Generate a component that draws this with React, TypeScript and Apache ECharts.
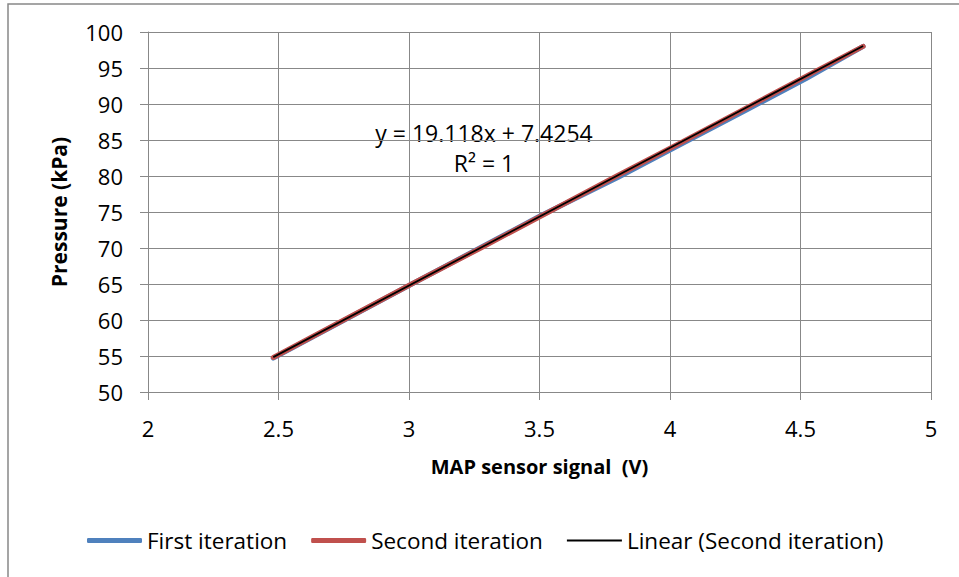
import React, { useEffect, useRef } from "react";
import * as echarts from "echarts";

const firstX = [2.48, 3.0, 3.5, 3.8, 4.02, 4.3, 4.52, 4.74];
const firstY = [54.7, 64.8, 74.4, 79.8, 84.0, 89.3, 93.5, 98.0];
const secondX = [2.48, 2.75, 3.01, 3.27, 3.53, 3.79, 4.05, 4.3, 4.56, 4.74];
const secondY = [54.8, 60.0, 65.0, 69.9, 74.9, 79.9, 84.8, 89.6, 94.6, 98.0];
const trendX = [2.48, 4.74];
const trendY = [54.84, 98.05];
const equationText = "y = 19.118x + 7.4254";
const r2Text = "R² = 1";
const xTitle = "MAP sensor signal  (V)";
const yTitle = "Pressure (kPa)";

const FONT = "'Open Sans', 'Noto Sans', sans-serif";

export default function App() {
  const ref = useRef<HTMLDivElement>(null);
  useEffect(() => {
    if (!ref.current) return;
    const chart = echarts.init(ref.current, undefined, { renderer: "svg" });
    const zip = (xs: number[], ys: number[]) => xs.map((x, i) => [x, ys[i]]);
    chart.setOption({
      animation: false,
      backgroundColor: "#fff",
      textStyle: { fontFamily: FONT },
      grid: { left: 148, right: 28, top: 32, bottom: 185, containLabel: false },
      xAxis: {
        type: "value",
        min: 2,
        max: 5,
        interval: 0.5,
        name: xTitle,
        nameLocation: "middle",
        nameGap: 64,
        nameTextStyle: { fontSize: 20, fontWeight: "bold", color: "#000", fontFamily: FONT },
        axisLine: { show: true, lineStyle: { color: "#888", width: 1 } },
        axisTick: { show: true, length: 8, inside: false, lineStyle: { color: "#888" } },
        axisLabel: { fontSize: 22, color: "#000", margin: 25, fontFamily: FONT },
        splitLine: { show: true, lineStyle: { color: "#888", width: 1 } },
      },
      yAxis: {
        type: "value",
        min: 50,
        max: 100,
        interval: 5,
        name: yTitle,
        nameLocation: "middle",
        nameGap: 79,
        nameTextStyle: { fontSize: 21, fontWeight: "bold", color: "#000", fontFamily: FONT },
        axisLine: { show: true, lineStyle: { color: "#888", width: 1 } },
        axisTick: { show: true, length: 8, lineStyle: { color: "#888" } },
        axisLabel: { fontSize: 22, color: "#000", margin: 25, fontFamily: FONT },
        splitLine: { show: true, lineStyle: { color: "#888", width: 1 } },
      },
      legend: {
        left: 82,
        top: 524,
        itemWidth: 55,
        itemHeight: 5,
        itemGap: 24,
        symbolKeepAspect: true,
        textStyle: { fontSize: 22.5, color: "#000", fontFamily: FONT },
        data: [
          { name: "First iteration", icon: "roundRect", itemStyle: { color: "#4f81bd" } },
          { name: "Second iteration", icon: "roundRect", itemStyle: { color: "#c0504d" } },
          {
            name: "Linear (Second iteration)",
            icon: "path://M0,0L100,0L100,3.2L0,3.2Z",
            itemStyle: { color: "#000" },
          },
        ],
      },
      series: [
        {
          name: "First iteration",
          type: "line",
          data: zip(firstX, firstY),
          symbol: "none",
          lineStyle: { color: "#4f81bd", width: 5, cap: "round" },
          itemStyle: { color: "#4f81bd" },
        },
        {
          name: "Second iteration",
          type: "line",
          data: zip(secondX, secondY),
          symbol: "none",
          lineStyle: { color: "#c0504d", width: 5, cap: "round" },
          itemStyle: { color: "#c0504d" },
        },
        {
          name: "Linear (Second iteration)",
          type: "line",
          data: zip(trendX, trendY),
          symbol: "none",
          lineStyle: { color: "#000", width: 1.8 },
          itemStyle: { color: "#000" },
        },
      ],
      graphic: [
        {
          type: "rect",
          silent: true,
          shape: { x: 8, y: 4, width: 1000, height: 700 },
          style: { fill: "none", stroke: "#888", lineWidth: 1.5 },
        },
        {
          type: "text",
          x: 484,
          y: 133,
          style: { text: equationText, fontSize: 23, fill: "#000", align: "center", verticalAlign: "middle", fontFamily: FONT },
        },
        {
          type: "text",
          x: 484,
          y: 163,
          style: { text: r2Text, fontSize: 23, fill: "#000", align: "center", verticalAlign: "middle", fontFamily: FONT },
        },
      ],
    });
    return () => chart.dispose();
  }, []);
  return (
    <div
      ref={ref}
      style={{ position: "fixed", left: 0, top: 0, width: 959, height: 577 }}
    />
  );
}
